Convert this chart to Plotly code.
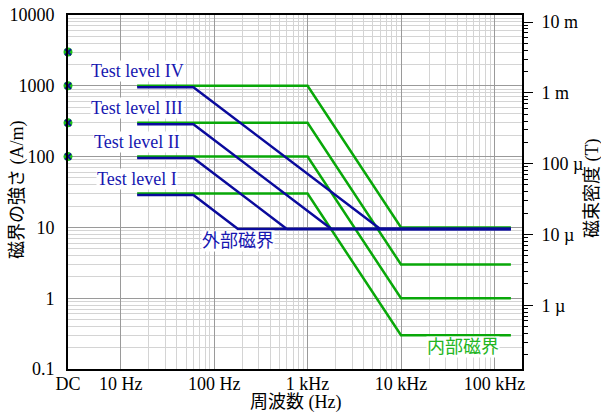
import numpy as np
import plotly.graph_objects as go

# Frequency breakpoints (Hz)
f_start = 15
f_ext_knee = 60
f_int_knee = 1000
f_end = 150000

# Test levels I..IV (A/m)
level_names = ["Test level I", "Test level II", "Test level III", "Test level IV"]
levels = [30, 100, 300, 1000]
ext_floor = 10            # external field floor (A/m)
int_floor_ratio = 0.01    # internal field floor relative to level

# DC levels (A/m)
dc_levels = [3000, 1000, 300, 100]

# Axis tick labels
x_tick_vals = [10, 100, 1000, 10000, 100000]
x_tick_text = ["10 Hz", "100 Hz", "1 kHz", "10 kHz", "100 kHz"]
y_tick_vals = [0.1, 1, 10, 100, 1000, 10000]
y_tick_text = ["0.1", "1", "10", "100", "1000", "10000"]
b_tick_vals = [1e-6, 1e-5, 1e-4, 1e-3, 1e-2]
b_tick_text = ["1 µ", "10 µ", "100 µ", "1 m", "10 m"]

MU0 = 4 * np.pi * 1e-7
X_MIN, X_MAX = 0.436, 5.295
Y_MIN, Y_MAX = -1, 4
SHIFT = 0.021  # small offset so the blue line sits just under the green one

BLUE = "#0a0a9c"
BLUE_TXT = "#1717b0"
GREEN = "#09a809"
GREEN_TXT = "#22b522"
SERIF = "Liberation Serif"
SERIF_CJK = "Liberation Serif, Noto Sans CJK JP"

fig = go.Figure()

# Internal field: flat to 1 kHz, then 1/f^2 down to level/100
for lv in levels:
    floor = lv * int_floor_ratio
    xs = [f_start, f_int_knee, f_int_knee * np.sqrt(lv / floor), f_end]
    ys = [lv, lv, floor, floor]
    fig.add_trace(go.Scatter(x=xs, y=ys, mode="lines",
                             line=dict(color=GREEN, width=2.5),
                             showlegend=False, hoverinfo="skip"))

# External field: flat to 60 Hz, then 1/f down to 10 A/m
for lv in levels:
    xs = [f_start, f_ext_knee, f_ext_knee * lv / ext_floor, f_end]
    ys = [lv, lv, ext_floor, ext_floor]
    fig.add_trace(go.Scatter(x=xs, y=ys, mode="lines", yaxis="y3",
                             line=dict(color=BLUE, width=2.5),
                             showlegend=False, hoverinfo="skip"))

# DC points on the left edge
x_dc = [10 ** X_MIN] * len(dc_levels)
fig.add_trace(go.Scatter(x=x_dc, y=dc_levels, mode="markers", cliponaxis=False,
                         marker=dict(symbol="circle", size=9, color="#1cc01c"),
                         showlegend=False, hoverinfo="skip"))
fig.add_trace(go.Scatter(x=x_dc, y=dc_levels, mode="markers", cliponaxis=False,
                         marker=dict(symbol="x-thin", size=6,
                                     line=dict(color=BLUE, width=1.8)),
                         showlegend=False, hoverinfo="skip"))

# Secondary (flux density) axis carrier
fig.add_trace(go.Scatter(x=[10 ** X_MIN], y=[1e-3], yaxis="y2", mode="markers",
                         marker=dict(opacity=0), showlegend=False, hoverinfo="skip"))

# Minor grid positions
x_minor = [m * 10 ** d for d in range(1, 5) for m in range(2, 10)]
y_minor = [m * 10 ** d for d in range(-1, 4) for m in range(2, 10)]
b_minor = [m * 10 ** d for d in range(-8, -1) for m in range(2, 10)
           if 0.1 * MU0 < m * 10 ** d < 1e4 * MU0]

tick_font = dict(family=SERIF, size=18, color="black")
title_font = dict(family=SERIF_CJK, size=18, color="black")

# Labels
label_pos = {30: (15, 10 ** 1.684), 100: (15, 10 ** 2.206),
             300: (15, 10 ** 2.686), 1000: (15, 10 ** 3.209)}
annotations = []
for name, lv in zip(level_names, levels):
    lx, ly = label_pos[lv]
    annotations.append(dict(x=np.log10(lx), y=np.log10(ly), xref="x", yref="y",
                            text=name, showarrow=False, xanchor="center",
                            yanchor="middle", bgcolor="white", borderpad=0,
                            font=dict(family=SERIF, size=18, color=BLUE_TXT)))
annotations.append(dict(x=2.254, y=0.812, xref="x", yref="y", text="外部磁界",
                        showarrow=False, bgcolor="white", borderpad=0,
                        xanchor="center", yanchor="middle",
                        font=dict(family=SERIF_CJK, size=18, color=BLUE_TXT)))
annotations.append(dict(x=4.664, y=-0.685, xref="x", yref="y", text="内部磁界",
                        showarrow=False, bgcolor="white", borderpad=0,
                        xanchor="center", yanchor="middle",
                        font=dict(family=SERIF_CJK, size=18, color=GREEN_TXT)))

# Axis titles
annotations.append(dict(x=0.5, y=-0.094, xref="paper", yref="paper",
                        xanchor="center", yanchor="middle",
                        text="周波数 (Hz)", showarrow=False, font=title_font))
annotations.append(dict(x=-0.110, y=0.506, xref="paper", yref="paper",
                        xanchor="center", yanchor="middle",
                        text="磁界の強さ (A/m)", textangle=-90, showarrow=False,
                        font=title_font))
annotations.append(dict(x=1.1553, y=0.51, xref="paper", yref="paper",
                        xanchor="center", yanchor="middle",
                        text="磁束密度 (T)", textangle=-90, showarrow=False,
                        font=title_font))

fig.update_layout(
    width=601, height=413,
    margin=dict(l=68, r=79, t=15, b=44),
    paper_bgcolor="white", plot_bgcolor="white",
    annotations=annotations,
    xaxis=dict(
        type="log", range=[X_MIN, X_MAX], automargin=False,
        tickmode="array", tickvals=[10 ** X_MIN] + x_tick_vals,
        ticktext=["DC"] + x_tick_text, tickfont=tick_font, ticks="",
        ticklabelstandoff=-3,
        showgrid=True, gridcolor="#9a9a9a", gridwidth=1,
        minor=dict(tickmode="array", tickvals=x_minor, showgrid=True,
                   gridcolor="#d4d4d4", gridwidth=1, ticks=""),
        showline=True, linecolor="black", linewidth=2, mirror=True,
        zeroline=False,
    ),
    yaxis=dict(
        type="log", range=[Y_MIN, Y_MAX], automargin=False,
        tickmode="array", tickvals=y_tick_vals, ticktext=y_tick_text,
        tickfont=tick_font, ticks="", ticklabelstandoff=8,
        showgrid=True, gridcolor="#9a9a9a", gridwidth=1,
        minor=dict(tickmode="array", tickvals=y_minor, showgrid=True,
                   gridcolor="#d4d4d4", gridwidth=1, ticks=""),
        showline=True, linecolor="black", linewidth=2,
        zeroline=False,
    ),
    yaxis2=dict(
        type="log", overlaying="y", side="right", automargin=False,
        range=[np.log10(0.1 * MU0), np.log10(1e4 * MU0)],
        tickmode="array", tickvals=b_tick_vals, ticktext=b_tick_text,
        tickfont=tick_font, ticks="outside", ticklen=9, tickwidth=1,
        tickcolor="black", ticklabelstandoff=5,
        minor=dict(tickmode="array", tickvals=b_minor, ticks="outside",
                   ticklen=4, tickwidth=1, tickcolor="black", showgrid=False),
        showgrid=False, showline=True, linecolor="black", linewidth=2,
        zeroline=False,
    ),
    yaxis3=dict(
        type="log", overlaying="y",
        range=[Y_MIN + SHIFT, Y_MAX + SHIFT], visible=False,
    ),
)

fig.write_html("out.html")
